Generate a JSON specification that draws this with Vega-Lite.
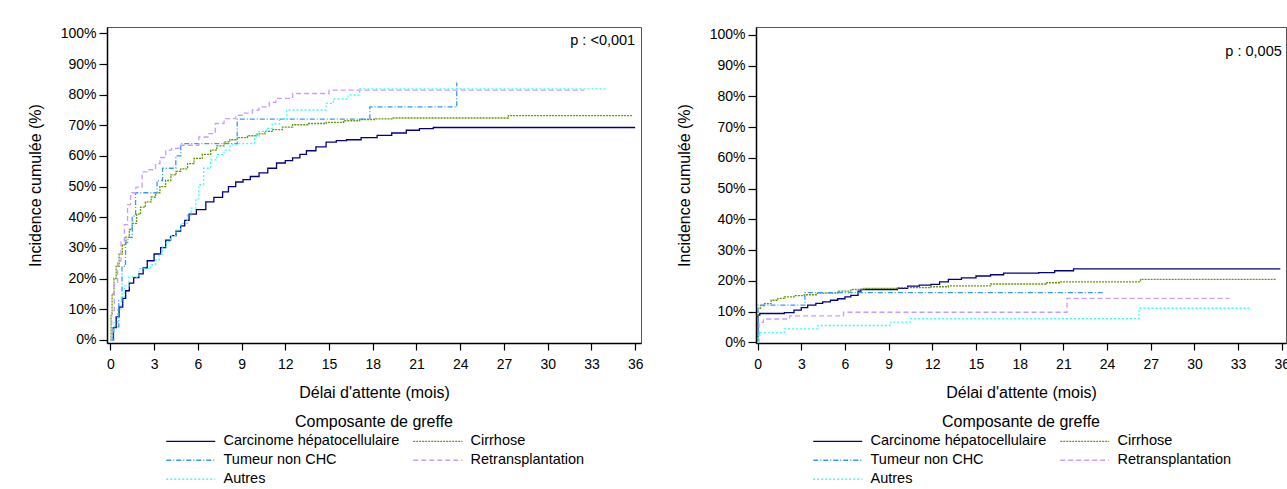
{
  "$schema": "https://vega.github.io/schema/vega-lite/v6.json",
  "background": "white",
  "padding": {"left": 26, "top": 25, "right": 0, "bottom": 0},
  "spacing": 31,
  "resolve": {
    "scale": {"color": "independent", "strokeDash": "independent"},
    "legend": {"color": "independent", "strokeDash": "independent"}
  },
  "datasets": {
    "left": [
      {"grp": "Carcinome hépatocellulaire", "m": 0, "p": 0},
      {"grp": "Carcinome hépatocellulaire", "m": 0.2, "p": 4},
      {"grp": "Carcinome hépatocellulaire", "m": 0.4, "p": 7.5},
      {"grp": "Carcinome hépatocellulaire", "m": 0.6, "p": 10.7},
      {"grp": "Carcinome hépatocellulaire", "m": 0.85, "p": 13.5},
      {"grp": "Carcinome hépatocellulaire", "m": 1.05, "p": 16},
      {"grp": "Carcinome hépatocellulaire", "m": 1.3, "p": 18.5},
      {"grp": "Carcinome hépatocellulaire", "m": 1.6, "p": 20.3},
      {"grp": "Carcinome hépatocellulaire", "m": 1.96, "p": 21.5},
      {"grp": "Carcinome hépatocellulaire", "m": 2.25, "p": 23.5},
      {"grp": "Carcinome hépatocellulaire", "m": 2.53, "p": 25.8},
      {"grp": "Carcinome hépatocellulaire", "m": 3.0, "p": 28},
      {"grp": "Carcinome hépatocellulaire", "m": 3.45, "p": 30.1},
      {"grp": "Carcinome hépatocellulaire", "m": 3.8, "p": 32.5},
      {"grp": "Carcinome hépatocellulaire", "m": 4.13, "p": 34},
      {"grp": "Carcinome hépatocellulaire", "m": 4.5, "p": 35.5},
      {"grp": "Carcinome hépatocellulaire", "m": 4.82, "p": 37.2},
      {"grp": "Carcinome hépatocellulaire", "m": 5.1, "p": 39},
      {"grp": "Carcinome hépatocellulaire", "m": 5.4, "p": 41},
      {"grp": "Carcinome hépatocellulaire", "m": 5.9, "p": 42.5},
      {"grp": "Carcinome hépatocellulaire", "m": 6.55, "p": 45},
      {"grp": "Carcinome hépatocellulaire", "m": 7.1, "p": 46.5},
      {"grp": "Carcinome hépatocellulaire", "m": 7.7, "p": 48.3},
      {"grp": "Carcinome hépatocellulaire", "m": 8.1, "p": 50},
      {"grp": "Carcinome hépatocellulaire", "m": 8.6, "p": 51.5},
      {"grp": "Carcinome hépatocellulaire", "m": 9.1, "p": 52.3},
      {"grp": "Carcinome hépatocellulaire", "m": 9.6, "p": 53.3},
      {"grp": "Carcinome hépatocellulaire", "m": 10.2, "p": 54.5},
      {"grp": "Carcinome hépatocellulaire", "m": 10.8, "p": 56},
      {"grp": "Carcinome hépatocellulaire", "m": 11.4, "p": 57.7},
      {"grp": "Carcinome hépatocellulaire", "m": 12.0, "p": 58.5},
      {"grp": "Carcinome hépatocellulaire", "m": 12.5, "p": 59.4},
      {"grp": "Carcinome hépatocellulaire", "m": 13.0, "p": 60.5},
      {"grp": "Carcinome hépatocellulaire", "m": 13.45, "p": 61.7},
      {"grp": "Carcinome hépatocellulaire", "m": 14.1, "p": 63},
      {"grp": "Carcinome hépatocellulaire", "m": 14.8, "p": 64.5},
      {"grp": "Carcinome hépatocellulaire", "m": 15.5, "p": 65},
      {"grp": "Carcinome hépatocellulaire", "m": 16.2, "p": 65.3},
      {"grp": "Carcinome hépatocellulaire", "m": 17.2, "p": 66},
      {"grp": "Carcinome hépatocellulaire", "m": 18.3, "p": 66.7},
      {"grp": "Carcinome hépatocellulaire", "m": 19.3, "p": 67.5},
      {"grp": "Carcinome hépatocellulaire", "m": 20.3, "p": 68.4},
      {"grp": "Carcinome hépatocellulaire", "m": 21.2, "p": 68.9},
      {"grp": "Carcinome hépatocellulaire", "m": 22.15, "p": 69.3},
      {"grp": "Carcinome hépatocellulaire", "m": 36, "p": 69.3},
      {"grp": "Cirrhose", "m": 0, "p": 0},
      {"grp": "Cirrhose", "m": 0.05, "p": 8},
      {"grp": "Cirrhose", "m": 0.12, "p": 15},
      {"grp": "Cirrhose", "m": 0.25, "p": 20},
      {"grp": "Cirrhose", "m": 0.4, "p": 24},
      {"grp": "Cirrhose", "m": 0.6, "p": 28},
      {"grp": "Cirrhose", "m": 0.82, "p": 31},
      {"grp": "Cirrhose", "m": 1.07, "p": 33.5},
      {"grp": "Cirrhose", "m": 1.3, "p": 36},
      {"grp": "Cirrhose", "m": 1.5, "p": 38},
      {"grp": "Cirrhose", "m": 1.8, "p": 41},
      {"grp": "Cirrhose", "m": 2.07, "p": 43.3},
      {"grp": "Cirrhose", "m": 2.4, "p": 45},
      {"grp": "Cirrhose", "m": 2.8, "p": 46.6},
      {"grp": "Cirrhose", "m": 3.1, "p": 48},
      {"grp": "Cirrhose", "m": 3.4, "p": 50},
      {"grp": "Cirrhose", "m": 3.79, "p": 52},
      {"grp": "Cirrhose", "m": 4.15, "p": 53.8},
      {"grp": "Cirrhose", "m": 4.5, "p": 55},
      {"grp": "Cirrhose", "m": 4.83, "p": 55.8},
      {"grp": "Cirrhose", "m": 5.3, "p": 57.5},
      {"grp": "Cirrhose", "m": 5.74, "p": 59.2},
      {"grp": "Cirrhose", "m": 6.3, "p": 60.5},
      {"grp": "Cirrhose", "m": 6.88, "p": 61.9},
      {"grp": "Cirrhose", "m": 7.3, "p": 63.3},
      {"grp": "Cirrhose", "m": 7.8, "p": 64.6},
      {"grp": "Cirrhose", "m": 8.2, "p": 65.3},
      {"grp": "Cirrhose", "m": 8.7, "p": 66},
      {"grp": "Cirrhose", "m": 9.4, "p": 66.6},
      {"grp": "Cirrhose", "m": 10.07, "p": 67.2},
      {"grp": "Cirrhose", "m": 10.6, "p": 68},
      {"grp": "Cirrhose", "m": 11.1, "p": 68.6},
      {"grp": "Cirrhose", "m": 11.8, "p": 69.4},
      {"grp": "Cirrhose", "m": 12.5, "p": 70.2},
      {"grp": "Cirrhose", "m": 13.6, "p": 70.6},
      {"grp": "Cirrhose", "m": 14.8, "p": 71},
      {"grp": "Cirrhose", "m": 16, "p": 71.5},
      {"grp": "Cirrhose", "m": 17.1, "p": 71.9},
      {"grp": "Cirrhose", "m": 18.2, "p": 72.1},
      {"grp": "Cirrhose", "m": 19.4, "p": 72.4},
      {"grp": "Cirrhose", "m": 27.3, "p": 73.2},
      {"grp": "Cirrhose", "m": 35.8, "p": 73.2},
      {"grp": "Tumeur non CHC", "m": 0, "p": 0},
      {"grp": "Tumeur non CHC", "m": 0.24, "p": 4.2},
      {"grp": "Tumeur non CHC", "m": 0.58, "p": 12.8},
      {"grp": "Tumeur non CHC", "m": 0.8, "p": 24},
      {"grp": "Tumeur non CHC", "m": 1.04, "p": 31.8},
      {"grp": "Tumeur non CHC", "m": 1.2, "p": 33.4},
      {"grp": "Tumeur non CHC", "m": 1.5, "p": 40.4},
      {"grp": "Tumeur non CHC", "m": 1.73, "p": 48},
      {"grp": "Tumeur non CHC", "m": 3.2, "p": 52},
      {"grp": "Tumeur non CHC", "m": 3.58, "p": 56},
      {"grp": "Tumeur non CHC", "m": 4.49, "p": 60},
      {"grp": "Tumeur non CHC", "m": 4.83, "p": 64},
      {"grp": "Tumeur non CHC", "m": 8.7, "p": 72},
      {"grp": "Tumeur non CHC", "m": 17.8, "p": 76},
      {"grp": "Tumeur non CHC", "m": 23.76, "p": 84},
      {"grp": "Retransplantation", "m": 0, "p": 0},
      {"grp": "Retransplantation", "m": 0.09, "p": 9.5},
      {"grp": "Retransplantation", "m": 0.27, "p": 18.2},
      {"grp": "Retransplantation", "m": 0.5, "p": 25.7},
      {"grp": "Retransplantation", "m": 0.73, "p": 32.2},
      {"grp": "Retransplantation", "m": 0.96, "p": 37.6},
      {"grp": "Retransplantation", "m": 1.18, "p": 44.1},
      {"grp": "Retransplantation", "m": 1.39, "p": 48},
      {"grp": "Retransplantation", "m": 1.75, "p": 49.8},
      {"grp": "Retransplantation", "m": 2.18, "p": 54.8},
      {"grp": "Retransplantation", "m": 2.6, "p": 55.5},
      {"grp": "Retransplantation", "m": 3.1, "p": 57.5},
      {"grp": "Retransplantation", "m": 3.4, "p": 59.5},
      {"grp": "Retransplantation", "m": 3.8, "p": 61.9},
      {"grp": "Retransplantation", "m": 4.2, "p": 62.5},
      {"grp": "Retransplantation", "m": 4.7, "p": 63.5},
      {"grp": "Retransplantation", "m": 6.07, "p": 66.2},
      {"grp": "Retransplantation", "m": 6.76, "p": 67.3},
      {"grp": "Retransplantation", "m": 7.2, "p": 70.6},
      {"grp": "Retransplantation", "m": 7.8, "p": 72.2},
      {"grp": "Retransplantation", "m": 8.6, "p": 73.3},
      {"grp": "Retransplantation", "m": 9.1, "p": 74},
      {"grp": "Retransplantation", "m": 9.74, "p": 75},
      {"grp": "Retransplantation", "m": 10.2, "p": 76},
      {"grp": "Retransplantation", "m": 10.9, "p": 77.5},
      {"grp": "Retransplantation", "m": 11.35, "p": 78.8},
      {"grp": "Retransplantation", "m": 12.5, "p": 80.4},
      {"grp": "Retransplantation", "m": 15, "p": 81.5},
      {"grp": "Retransplantation", "m": 32.5, "p": 81.5},
      {"grp": "Autres", "m": 0, "p": 0},
      {"grp": "Autres", "m": 0.1, "p": 3},
      {"grp": "Autres", "m": 0.25, "p": 5.5},
      {"grp": "Autres", "m": 0.5, "p": 10},
      {"grp": "Autres", "m": 0.75, "p": 14},
      {"grp": "Autres", "m": 0.96, "p": 17.6},
      {"grp": "Autres", "m": 1.28, "p": 20.5},
      {"grp": "Autres", "m": 1.97, "p": 23.2},
      {"grp": "Autres", "m": 2.77, "p": 24.5},
      {"grp": "Autres", "m": 3.1, "p": 26},
      {"grp": "Autres", "m": 3.35, "p": 28},
      {"grp": "Autres", "m": 3.57, "p": 30.3},
      {"grp": "Autres", "m": 3.85, "p": 32},
      {"grp": "Autres", "m": 4.14, "p": 34},
      {"grp": "Autres", "m": 4.5, "p": 35.8},
      {"grp": "Autres", "m": 4.83, "p": 38},
      {"grp": "Autres", "m": 5.28, "p": 40.7},
      {"grp": "Autres", "m": 5.55, "p": 43},
      {"grp": "Autres", "m": 5.86, "p": 46},
      {"grp": "Autres", "m": 6.07, "p": 50.6},
      {"grp": "Autres", "m": 6.4, "p": 56},
      {"grp": "Autres", "m": 6.88, "p": 58.7},
      {"grp": "Autres", "m": 7.3, "p": 60.5},
      {"grp": "Autres", "m": 7.8, "p": 61.9},
      {"grp": "Autres", "m": 8.2, "p": 63.6},
      {"grp": "Autres", "m": 8.75, "p": 64},
      {"grp": "Autres", "m": 9.9, "p": 66.4},
      {"grp": "Autres", "m": 10.2, "p": 68},
      {"grp": "Autres", "m": 10.7, "p": 69},
      {"grp": "Autres", "m": 11.1, "p": 70.5},
      {"grp": "Autres", "m": 11.6, "p": 72},
      {"grp": "Autres", "m": 12.1, "p": 75},
      {"grp": "Autres", "m": 14.8, "p": 77.2},
      {"grp": "Autres", "m": 15.3, "p": 78.6},
      {"grp": "Autres", "m": 16.3, "p": 79.9},
      {"grp": "Autres", "m": 17.1, "p": 81.9},
      {"grp": "Autres", "m": 34, "p": 81.9}
    ],
    "right": [
      {"grp": "Carcinome hépatocellulaire", "m": 0, "p": 0},
      {"grp": "Carcinome hépatocellulaire", "m": 0.02, "p": 8.9},
      {"grp": "Carcinome hépatocellulaire", "m": 0.15, "p": 9.4},
      {"grp": "Carcinome hépatocellulaire", "m": 1.84, "p": 9.7},
      {"grp": "Carcinome hépatocellulaire", "m": 2.5, "p": 10.5},
      {"grp": "Carcinome hépatocellulaire", "m": 3.0, "p": 11.3},
      {"grp": "Carcinome hépatocellulaire", "m": 3.44, "p": 12.1},
      {"grp": "Carcinome hépatocellulaire", "m": 4.0, "p": 12.7},
      {"grp": "Carcinome hépatocellulaire", "m": 4.47, "p": 13.2},
      {"grp": "Carcinome hépatocellulaire", "m": 5.0, "p": 13.7},
      {"grp": "Carcinome hépatocellulaire", "m": 5.5, "p": 14.2},
      {"grp": "Carcinome hépatocellulaire", "m": 6.0, "p": 14.8},
      {"grp": "Carcinome hépatocellulaire", "m": 6.4, "p": 15.3},
      {"grp": "Carcinome hépatocellulaire", "m": 6.9, "p": 16.7},
      {"grp": "Carcinome hépatocellulaire", "m": 7.1, "p": 17.2},
      {"grp": "Carcinome hépatocellulaire", "m": 9.6, "p": 17.6},
      {"grp": "Carcinome hépatocellulaire", "m": 10.3, "p": 18.3},
      {"grp": "Carcinome hépatocellulaire", "m": 11.1, "p": 18.6},
      {"grp": "Carcinome hépatocellulaire", "m": 11.9, "p": 18.9},
      {"grp": "Carcinome hépatocellulaire", "m": 12.5, "p": 19.7},
      {"grp": "Carcinome hépatocellulaire", "m": 13.1, "p": 20.5},
      {"grp": "Carcinome hépatocellulaire", "m": 14, "p": 21},
      {"grp": "Carcinome hépatocellulaire", "m": 15, "p": 21.6},
      {"grp": "Carcinome hépatocellulaire", "m": 16, "p": 22},
      {"grp": "Carcinome hépatocellulaire", "m": 16.9, "p": 22.5},
      {"grp": "Carcinome hépatocellulaire", "m": 19.3, "p": 22.7},
      {"grp": "Carcinome hépatocellulaire", "m": 20.4, "p": 23.3},
      {"grp": "Carcinome hépatocellulaire", "m": 21.7, "p": 23.9},
      {"grp": "Carcinome hépatocellulaire", "m": 35.9, "p": 23.9},
      {"grp": "Cirrhose", "m": 0, "p": 0},
      {"grp": "Cirrhose", "m": 0.02, "p": 11.1},
      {"grp": "Cirrhose", "m": 0.2, "p": 12},
      {"grp": "Cirrhose", "m": 0.47, "p": 12.6},
      {"grp": "Cirrhose", "m": 0.93, "p": 13.7},
      {"grp": "Cirrhose", "m": 1.4, "p": 14.3},
      {"grp": "Cirrhose", "m": 1.84, "p": 14.8},
      {"grp": "Cirrhose", "m": 2.5, "p": 15.2},
      {"grp": "Cirrhose", "m": 3.2, "p": 15.5},
      {"grp": "Cirrhose", "m": 4.1, "p": 16},
      {"grp": "Cirrhose", "m": 5.5, "p": 16.7},
      {"grp": "Cirrhose", "m": 6.4, "p": 17.2},
      {"grp": "Cirrhose", "m": 7.3, "p": 17.6},
      {"grp": "Cirrhose", "m": 9.6, "p": 17.8},
      {"grp": "Cirrhose", "m": 11.9, "p": 18.1},
      {"grp": "Cirrhose", "m": 13.1, "p": 18.4},
      {"grp": "Cirrhose", "m": 16, "p": 19},
      {"grp": "Cirrhose", "m": 19.8, "p": 19.4},
      {"grp": "Cirrhose", "m": 20.8, "p": 19.7},
      {"grp": "Cirrhose", "m": 26.3, "p": 20.5},
      {"grp": "Cirrhose", "m": 35.6, "p": 20.5},
      {"grp": "Tumeur non CHC", "m": 0, "p": 0},
      {"grp": "Tumeur non CHC", "m": 0.02, "p": 12.1},
      {"grp": "Tumeur non CHC", "m": 3.25, "p": 16.2},
      {"grp": "Tumeur non CHC", "m": 23.7, "p": 16.2},
      {"grp": "Retransplantation", "m": 0, "p": 0},
      {"grp": "Retransplantation", "m": 0.1, "p": 6.5},
      {"grp": "Retransplantation", "m": 0.4, "p": 7.6},
      {"grp": "Retransplantation", "m": 2.2, "p": 8.6},
      {"grp": "Retransplantation", "m": 5.9, "p": 9.8},
      {"grp": "Retransplantation", "m": 21.25, "p": 14.3},
      {"grp": "Retransplantation", "m": 32.4, "p": 14.3},
      {"grp": "Autres", "m": 0, "p": 0},
      {"grp": "Autres", "m": 0.05, "p": 2.4},
      {"grp": "Autres", "m": 0.17, "p": 3.2},
      {"grp": "Autres", "m": 1.85, "p": 4.4},
      {"grp": "Autres", "m": 4.15, "p": 5.5},
      {"grp": "Autres", "m": 9.15, "p": 6.6},
      {"grp": "Autres", "m": 10.5, "p": 7.7},
      {"grp": "Autres", "m": 26.2, "p": 11.1},
      {"grp": "Autres", "m": 33.9, "p": 11.1}
    ],
    "pleft": [{"label": "p : <0,001"}],
    "pright": [{"label": "p : 0,005"}]
  },
  "hconcat": [
    {
      "width": 534,
      "height": 316,
      "layer": [
        {
          "data": {"name": "left"},
          "mark": {"type": "line", "interpolate": "step-after", "strokeWidth": 1.3},
          "encoding": {
            "x": {"field": "m", "type": "quantitative", "scale": {"domain": [-0.23, 36.4], "nice": false, "zero": false},
                  "axis": {"title": "Délai d'attente (mois)", "values": [0,3,6,9,12,15,18,21,24,27,30,33,36], "tickCount": 30, "labelOverlap": false}},
            "y": {"field": "p", "type": "quantitative", "scale": {"domain": [-1.05, 102.1], "nice": false, "zero": false},
                  "axis": {"title": "Incidence cumulée (%)", "values": [0,10,20,30,40,50,60,70,80,90,100], "tickCount": 30, "labelExpr": "datum.value + '%'", "labelOverlap": false}},
            "color": {"field": "grp", "type": "nominal", "title": "Composante de greffe",
                      "scale": {"domain": ["Carcinome hépatocellulaire", "Cirrhose", "Tumeur non CHC", "Retransplantation", "Autres"],
                                "range": ["#000080", "#669900", "#3399ff", "#cc99ff", "#33ffff"]}},
            "strokeDash": {"field": "grp", "type": "nominal", "title": "Composante de greffe",
                      "scale": {"domain": ["Carcinome hépatocellulaire", "Cirrhose", "Tumeur non CHC", "Retransplantation", "Autres"],
                                "range": [[1,0], [2,1], [5,2,1,2], [5,3], [2,2]]}}
          }
        },
        {
          "data": {"name": "pleft"},
          "mark": {"type": "text", "align": "right", "baseline": "middle", "fontSize": 14.5, "color": "#000"},
          "encoding": {
            "x": {"datum": 36},
            "y": {"datum": 97.5},
            "text": {"field": "label"}
          }
        }
      ]
    },
    {
      "width": 530,
      "height": 316,
      "layer": [
        {
          "data": {"name": "right"},
          "mark": {"type": "line", "interpolate": "step-after", "strokeWidth": 1.3},
          "encoding": {
            "x": {"field": "m", "type": "quantitative", "scale": {"domain": [-0.11, 36.29], "nice": false, "zero": false},
                  "axis": {"title": "Délai d'attente (mois)", "values": [0,3,6,9,12,15,18,21,24,27,30,33,36], "tickCount": 30, "labelOverlap": false}},
            "y": {"field": "p", "type": "quantitative", "scale": {"domain": [-0.2, 102.6], "nice": false, "zero": false},
                  "axis": {"title": "Incidence cumulée (%)", "values": [0,10,20,30,40,50,60,70,80,90,100], "tickCount": 30, "labelExpr": "datum.value + '%'", "labelOverlap": false}},
            "color": {"field": "grp", "type": "nominal", "title": "Composante de greffe",
                      "scale": {"domain": ["Carcinome hépatocellulaire", "Cirrhose", "Tumeur non CHC", "Retransplantation", "Autres"],
                                "range": ["#000080", "#669900", "#3399ff", "#cc99ff", "#33ffff"]}},
            "strokeDash": {"field": "grp", "type": "nominal", "title": "Composante de greffe",
                      "scale": {"domain": ["Carcinome hépatocellulaire", "Cirrhose", "Tumeur non CHC", "Retransplantation", "Autres"],
                                "range": [[1,0], [2,1], [5,2,1,2], [5,3], [2,2]]}}
          }
        },
        {
          "data": {"name": "pright"},
          "mark": {"type": "text", "align": "right", "baseline": "middle", "fontSize": 14.5, "color": "#000"},
          "encoding": {
            "x": {"datum": 36},
            "y": {"datum": 94.5},
            "text": {"field": "label"}
          }
        }
      ]
    }
  ],
  "config": {
    "font": "Liberation Sans",
    "view": {"stroke": "#555", "strokeWidth": 1},
    "axis": {
      "labelFont": "Liberation Sans", "titleFont": "Liberation Sans",
      "labelFontSize": 14, "titleFontSize": 16, "titleFontWeight": "normal",
      "labelColor": "#000", "titleColor": "#000",
      "domainColor": "#000", "tickColor": "#000", "domainWidth": 1.5, "tickWidth": 1.2,
      "tickSize": 8, "labelPadding": 3, "grid": false, "labelOverlap": false
    },
    "axisX": {"tickSize": 7, "labelPadding": 7, "titlePadding": 13},
    "axisY": {"titlePadding": 17},
    "legend": {
      "orient": "bottom", "direction": "horizontal", "columns": 2,
      "symbolType": "M-1,0H8.8", "symbolSize": 100, "symbolStrokeWidth": 1.3,
      "labelFont": "Liberation Sans", "titleFont": "Liberation Sans",
      "labelFontSize": 14.5, "titleFontSize": 16, "titleFontWeight": "normal",
      "labelColor": "#000", "titleColor": "#000", "titleAnchor": "middle",
      "labelLimit": 0,
      "rowPadding": 4, "columnPadding": 10, "labelOffset": 45, "offset": 14, "titlePadding": 4,
      "layout": {"bottom": {"anchor": "middle"}}
    }
  }
}
